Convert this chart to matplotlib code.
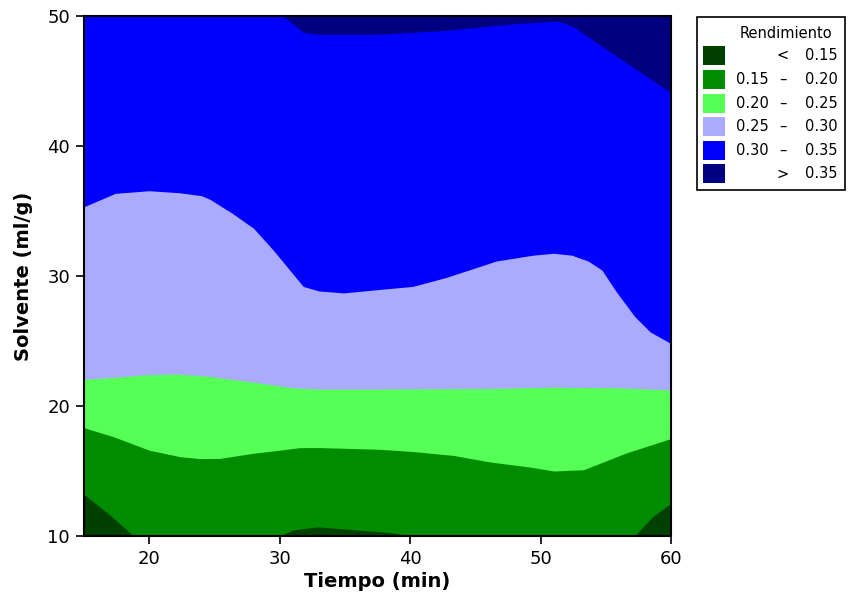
import matplotlib
matplotlib.use("Agg")
import matplotlib.pyplot as plt
from matplotlib.patches import Rectangle

# Contour boundaries of Rendimiento over Tiempo (min) x Solvente (ml/g)
# Each boundary: Tiempo positions and the Solvente value where the level is crossed
b015_x = [15.0, 17.0, 18.8, 30.0, 31.0, 32.9, 37.7, 40.2, 57.2, 58.6, 60.0]
b015_y = [13.2, 11.6, 10.0, 10.0, 10.46, 10.7, 10.33, 10.05, 10.0, 11.5, 12.5]

b020_x = [15.0, 17.25, 20.0, 22.36, 23.9, 25.4, 27.95, 30.0, 31.55, 33.1, 37.7,
          40.2, 43.3, 46.1, 49.2, 51.0, 53.3, 56.6, 60.0]
b020_y = [18.33, 17.64, 16.6, 16.1, 15.95, 15.97, 16.36, 16.6, 16.8, 16.8, 16.67,
          16.5, 16.2, 15.7, 15.3, 15.0, 15.1, 16.4, 17.5]

b025_x = [15.0, 17.25, 19.8, 22.1, 24.4, 27.5, 31.0, 33.1, 37.7, 46.0, 51.0, 56.0, 60.0]
b025_y = [22.05, 22.2, 22.4, 22.46, 22.3, 21.9, 21.4, 21.3, 21.3, 21.35, 21.45, 21.4, 21.23]

b030_x = [15.0, 17.4, 20.0, 22.36, 24.0, 24.65, 26.4, 28.0, 29.5, 31.8, 33.0, 34.9,
          37.7, 40.2, 42.8, 46.6, 49.4, 51.0, 52.4, 53.65, 54.7, 55.8, 57.2, 58.4, 60.0]
b030_y = [35.33, 36.36, 36.56, 36.4, 36.18, 35.9, 34.8, 33.67, 32.0, 29.2, 28.85, 28.7,
          28.97, 29.2, 29.9, 31.15, 31.6, 31.75, 31.6, 31.15, 30.46, 28.8, 26.9, 25.7, 24.8]

b035_x = [15.0, 30.27, 31.8, 32.8, 37.7, 42.8, 47.9, 51.35, 52.5, 54.5, 60.0]
b035_y = [50.0, 50.0, 48.75, 48.6, 48.6, 48.9, 49.4, 49.6, 49.2, 47.8, 44.1]

boundaries_x = [b015_x, b020_x, b025_x, b030_x, b035_x]
boundaries_y = [b015_y, b020_y, b025_y, b030_y, b035_y]

level_colors = ["#004000", "#008C00", "#55FF55", "#AAAAFF", "#0000FF", "#000080"]
legend_left = ["", "0.15", "0.20", "0.25", "0.30", ""]
legend_mid = ["<", "\u2013", "\u2013", "\u2013", "\u2013", ">"]
legend_right = ["0.15", "0.20", "0.25", "0.30", "0.35", "0.35"]

x_ticks = [20, 30, 40, 50, 60]
y_ticks = [10, 20, 30, 40, 50]
x_range = (15, 60)
y_range = (10, 50)

W, H = 849, 605
fig = plt.figure(figsize=(W / 100, H / 100), dpi=100)
ax = fig.add_axes([84 / W, 1 - 536 / H, 587 / W, 520 / H])

# lowest level fills the whole region, each higher level is painted above its boundary
ax.set_facecolor(level_colors[0])
for i, (bx, by) in enumerate(zip(boundaries_x, boundaries_y)):
    ax.fill_between(bx, by, y_range[1], color=level_colors[i + 1], lw=0,
                    antialiased=True, zorder=1 + i)

ax.set_xlim(*x_range)
ax.set_ylim(*y_range)
ax.set_xticks(x_ticks)
ax.set_yticks(y_ticks)
ax.tick_params(direction="out", length=6, width=1.2, labelsize=13, pad=4, colors="black")
for s in ax.spines.values():
    s.set_linewidth(1.5)
    s.set_zorder(10)
ax.set_xlabel("Tiempo (min)", fontsize=14, fontweight="bold", labelpad=3)
ax.set_ylabel("Solvente (ml/g)", fontsize=14, fontweight="bold", labelpad=10)

# legend panel drawn in pixel coordinates of the figure
lax = fig.add_axes([0, 0, 1, 1], zorder=5)
lax.set_xlim(0, W)
lax.set_ylim(H, 0)
lax.axis("off")
lax.add_patch(Rectangle((697, 17), 148, 173, fill=False, ec="black", lw=1.2))
lax.text(786, 33, "Rendimiento", ha="center", va="center", fontsize=10.5)
row0, row_step = 55.7, 23.65
for i, c in enumerate(level_colors):
    yc = row0 + i * row_step
    lax.add_patch(Rectangle((703, yc - 9.5), 22, 19, fc=c, ec="none"))
    if legend_left[i]:
        lax.text(736, yc, legend_left[i], ha="left", va="center", fontsize=10.5)
    lax.text(783, yc, legend_mid[i], ha="center", va="center", fontsize=10.5)
    lax.text(805, yc, legend_right[i], ha="left", va="center", fontsize=10.5)

fig.savefig("out.png", dpi=100)
